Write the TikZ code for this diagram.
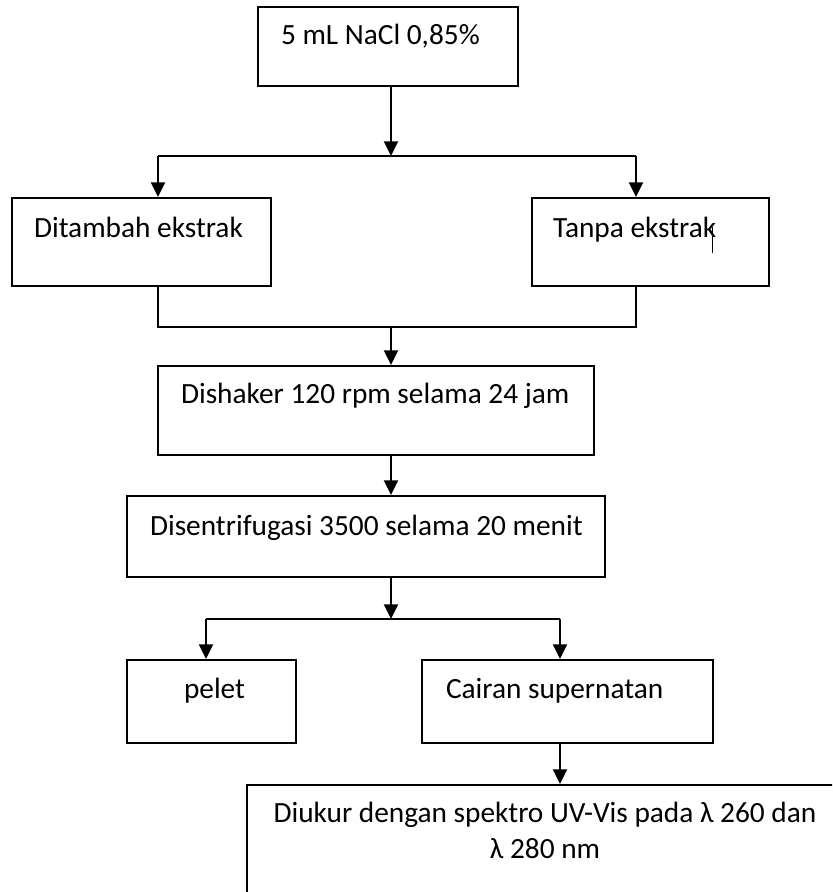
\documentclass[tikz,border=0pt]{standalone}
\usepackage{fontspec}
\setmainfont{Carlito}
\usetikzlibrary{arrows.meta,fit}

\tikzset{
  box/.style={draw, inner sep=0pt},
  txt/.style={anchor=base west, inner sep=0pt, font=\fontsize{22}{26.5}\selectfont}
}

\begin{document}
\begin{tikzpicture}[x=0.75pt, y=-0.75pt, line width=1.5pt, >={Triangle[length=11pt,width=10.5pt]}]

\useasboundingbox (0,0) rectangle (832,892);
\clip (0,0) rectangle (832,892);

\node (nacl) [box, fit={(258,7) (518,86)}] {};
\node (ditambah) [box, fit={(12,198) (271,286)}] {};
\node (tanpa) [box, fit={(532,198) (769,286)}] {};
\node (dishaker) [box, fit={(158,366) (594,455)}] {};
\node (disentri) [box, fit={(127,496) (605,577)}] {};
\node (pelet) [box, fit={(127,660) (296,743)}] {};
\node (cairan) [box, fit={(422,660) (713,743)}] {};
\node (diukur) [box, fit={(247,785) (843,905)}] {};

\node (nacl-txt) [txt] at (280,45) {5 mL NaCl 0,85\%};
\node (ditambah-txt) [txt] at (33,237) {Ditambah ekstrak};
\node (tanpa-txt) [txt] at (552,237) {Tanpa ekstrak};
\node (dishaker-txt) [txt] at (180,403) {Dishaker 120 rpm selama 24 jam};
\node (disentri-txt) [txt] at (149,535) {Disentrifugasi 3500 selama 20 menit};
\node (pelet-txt) [txt] at (183,698) {pelet};
\node (cairan-txt) [txt] at (445,698) {Cairan supernatan};
\node (diukur-txt) [txt, anchor=base, align=center] at (545,858) {Diukur dengan spektro UV-Vis pada λ 260 dan\\λ 280 nm};
\draw[line width=0.6pt] (712,227) -- (712,253);

\coordinate (split1) at (391,156);
\coordinate (split1l) at (158,156);
\coordinate (split1r) at (636,156);
\coordinate (join1) at (391,327);
\coordinate (join1l) at (158,327);
\coordinate (join1r) at (636,327);
\coordinate (split2) at (391,619);
\coordinate (split2l) at (206,619);
\coordinate (split2r) at (560,619);

\draw[->] (nacl.south -| split1) -- (split1);
\draw (split1l) -- (split1r);
\draw[->] (split1l) -- (split1l |- ditambah.north);
\draw[->] (split1r) -- (split1r |- tanpa.north);

\draw (ditambah.south -| join1l) -- (join1l) -- (join1r) -- (tanpa.south -| join1r);
\draw[->] (join1) -- (join1 |- dishaker.north);
\draw[->] (dishaker.south -| join1) -- (disentri.north -| join1);
\draw[->] (disentri.south -| split2) -- (split2);

\draw (split2l) -- (split2r);
\draw[->] (split2l) -- (split2l |- pelet.north);
\draw[->] (split2r) -- (split2r |- cairan.north);
\draw[->] (cairan.south -| split2r) -- (diukur.north -| split2r);

\end{tikzpicture}
\end{document}
